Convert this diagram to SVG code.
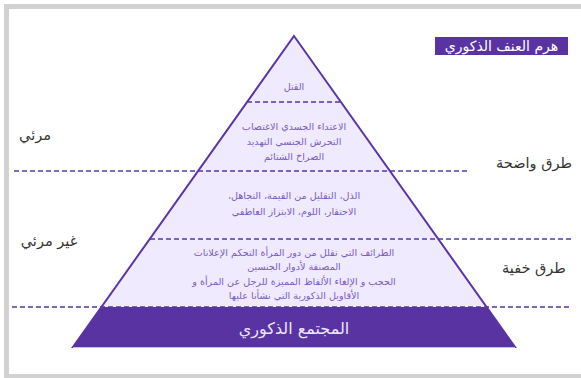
<svg xmlns="http://www.w3.org/2000/svg" width="581" height="378" viewBox="0 0 581 378">
<style>
.frame{fill:#ffffff;stroke:#d2d2d2;stroke-width:5}
.dash{stroke:#5b35a8;stroke-width:1.5;stroke-dasharray:5 3;fill:none}
.tier{font-family:"DejaVu Sans",sans-serif;font-size:9.6px;fill:#7a5cc6;text-anchor:middle}
.side{font-family:"DejaVu Sans",sans-serif;font-size:14.5px;fill:#333333;text-anchor:middle}
.title{font-family:"DejaVu Sans",sans-serif;font-size:14px;fill:#ffffff;text-anchor:middle}
.base{font-family:"DejaVu Sans",sans-serif;font-size:16px;fill:#ece6ff;text-anchor:middle}
</style>
<rect class="frame" x="6.5" y="6.5" width="590" height="370"/>
<g id="pyramid">
<polygon points="294,36 515,347 73,347" fill="#efeafd" stroke="#5b35a8" stroke-width="2"/>
<polygon points="101.5,307 486.5,307 515,347 73,347" fill="#5a33a3"/>
<line x1="73" y1="347.5" x2="515" y2="347.5" stroke="#c9b8f0" stroke-width="1"/>
</g>
<g id="connectors">
<line class="dash" x1="247" y1="102" x2="341" y2="102"/>
<line class="dash" x1="14" y1="171" x2="470" y2="171"/>
<line class="dash" x1="150" y1="239" x2="572" y2="239"/>
<line class="dash" x1="12" y1="307" x2="572" y2="307"/>
</g>
<g id="tier-murder">
<text class="tier" x="294" y="90" direction="rtl">القتل</text>
</g>
<g id="tier-physical">
<text class="tier" x="294" y="130" direction="rtl">الاعتداء الجسدي الاغتصاب</text>
<text class="tier" x="294" y="145" direction="rtl">التحرش الجنسي التهديد</text>
<text class="tier" x="294" y="160" direction="rtl">الصراخ الشتائم</text>
</g>
<g id="tier-emotional">
<text class="tier" x="294" y="199" direction="rtl">الذل، التقليل من القيمة، التجاهل،</text>
<text class="tier" x="294" y="215" direction="rtl">الاحتقار، اللوم، الابتزاز العاطفي</text>
</g>
<g id="tier-hidden">
<text class="tier" x="294" y="256" direction="rtl">الطرائف التي تقلل من دور المرأة التحكم  الإعلانات</text>
<text class="tier" x="294" y="270" direction="rtl">المصنفة لأدوار الجنسين</text>
<text class="tier" x="294" y="285" direction="rtl">الحجب  و الإلغاء الألفاظ المميزة  للرجل عن المرأة  و</text>
<text class="tier" x="294" y="299" direction="rtl">الأقاويل الذكورية التي نشأنا عليها</text>
</g>
<g id="tier-base">
<text class="base" x="294" y="334" direction="rtl">المجتمع الذكوري</text>
</g>
<g id="title">
<rect x="435" y="37" width="133" height="18" fill="#5a33a3"/>
<text class="title" x="501.5" y="51" direction="rtl">هرم العنف الذكوري</text>
</g>
<g id="label-visible">
<text class="side" x="35" y="140" direction="rtl">مرئي</text>
</g>
<g id="label-invisible">
<text class="side" x="49" y="246" direction="rtl">غير مرئي</text>
</g>
<g id="label-clear">
<text class="side" x="534" y="168" direction="rtl">طرق واضحة</text>
</g>
<g id="label-hidden">
<text class="side" x="534" y="273" direction="rtl">طرق خفية</text>
</g>
</svg>
